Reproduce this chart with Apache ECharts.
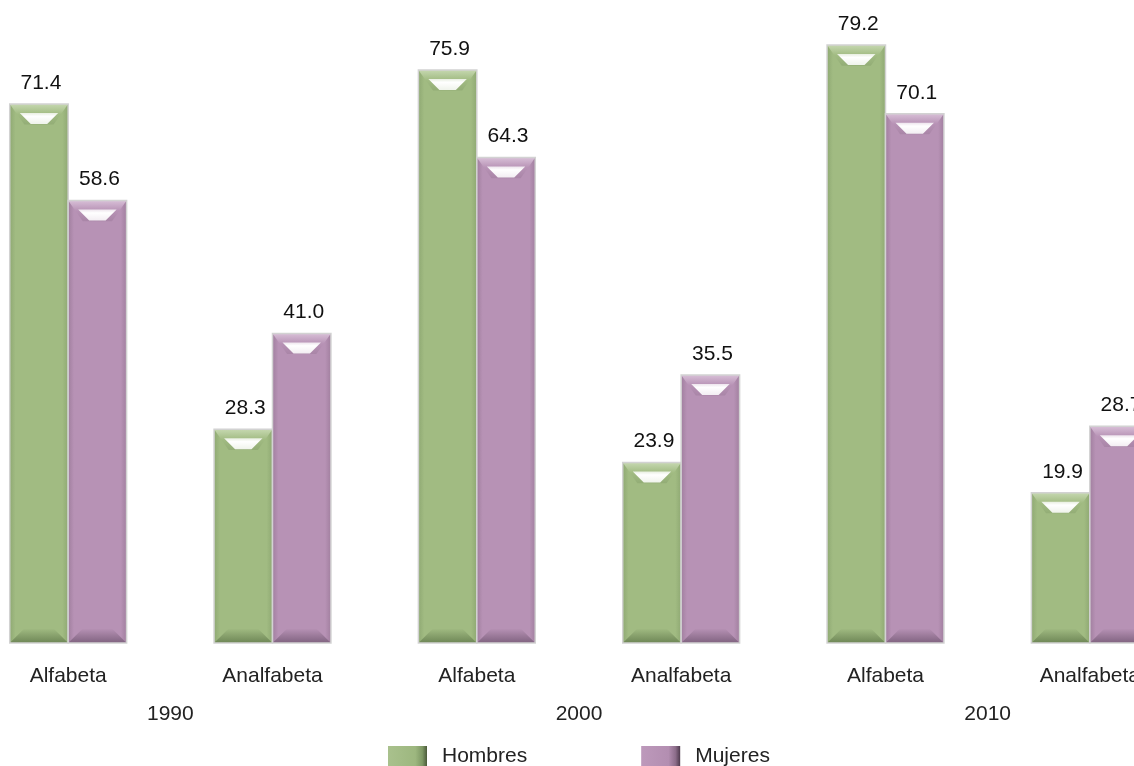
<!DOCTYPE html>
<html>
<head>
<meta charset="utf-8">
<script src="https://cdn.jsdelivr.net/npm/echarts@6/dist/echarts.min.js"></script>
<style>
html,body{margin:0;padding:0;background:#fff;overflow:hidden;width:1134px;height:766px;position:relative}
#c{position:absolute;left:-34px;top:0;width:1226px;height:766px}
</style>
</head>
<body>
<div id="c"></div>
<script>
const categories = ['Alfabeta', 'Analfabeta', 'Alfabeta', 'Analfabeta', 'Alfabeta', 'Analfabeta'];
const years = ['1990', '2000', '2010'];
const hombres = [71.4, 28.3, 75.9, 23.9, 79.2, 19.9];
const mujeres = [58.6, 41.0, 64.3, 35.5, 70.1, 28.7];

const FAMILY = '"Liberation Sans", Arial, sans-serif';
const FONT = '21px ' + FAMILY;

const palettes = {
  green: { main: '#A1BB82', light: '#C6D8B0', edge: '#8FA973', shade: '#93AD76', dark: '#6E8656' },
  purple: { main: '#B792B5', light: '#D8BFD7', edge: '#A17F9F', shade: '#A985A7', dark: '#806380' }
};

function lin(x0, y0, x1, y1, stops) {
  return new echarts.graphic.LinearGradient(x0, y0, x1, y1, stops.map(s => ({ offset: s[0], color: s[1] })));
}

function makeRender(side, pal) {
  return function (params, api) {
    const i = api.value(0), v = api.value(1);
    const p0 = api.coord([i, 0]);
    const p1 = api.coord([i, v]);
    const band = api.size([1, 0])[0];
    const w = band * 0.286;
    const x = side < 0 ? p0[0] - w : p0[0];
    const y = p1[1];
    const h = p0[1] - p1[1];
    const b = Math.min(w * 0.25, 15);
    return {
      type: 'group',
      children: [
        { type: 'rect', shape: { x: x, y: y, width: w, height: h },
          style: { fill: lin(0, 0, 1, 0, [[0, pal.edge], [0.1, pal.main], [0.9, pal.main], [1, pal.edge]]) } },
        { type: 'polygon', shape: { points: [[x, y], [x + w, y], [x + w - b, y + b + 6], [x + b, y + b + 6]] },
          style: { fill: lin(0, 0, 0, 1, [[0, pal.light], [0.5, pal.main], [1, pal.shade]]) } },
        { type: 'polygon', shape: { points: [[x + 10, y + 9], [x + w - 10, y + 9], [x + w - 21, y + 20], [x + 21, y + 20]] },
          style: { fill: lin(0, 0, 0, 1, [[0, 'rgba(255,255,255,0.75)'], [0.3, 'rgba(255,255,255,1)'], [1, 'rgba(255,255,255,0.85)']]) } },
        { type: 'polygon', shape: { points: [[x, y + h], [x + w, y + h], [x + w - b, y + h - b], [x + b, y + h - b]] },
          style: { fill: lin(0, 0, 0, 1, [[0, pal.main], [1, pal.dark]]) } },
        { type: 'rect', shape: { x: x, y: y, width: w, height: h },
          style: { fill: 'none', stroke: '#D2D2D2', lineWidth: 1.5 } },
        { type: 'text', style: { text: v.toFixed(1), x: x + w / 2 + 2, y: y - 21, align: 'center', verticalAlign: 'middle', font: FONT, fill: '#111' } }
      ]
    };
  };
}

const chart = echarts.init(document.getElementById('c'), null, { renderer: 'canvas' });
chart.setOption({
  animation: false,
  backgroundColor: '#fff',
  grid: { left: 0, right: 0, top: 39, bottom: 123 },
  legend: {
    left: 417, top: 741,
    itemWidth: 39, itemHeight: 21, itemGap: 114,
    icon: 'rect',
    textStyle: { fontSize: 21, fontFamily: FAMILY, color: '#222', padding: [0, 0, 0, 10] },
    data: ['Hombres', 'Mujeres']
  },
  xAxis: [
    { type: 'category', data: categories, position: 'bottom',
      axisLine: { show: false }, axisTick: { show: false },
      axisLabel: { margin: 23, fontSize: 21, fontFamily: FAMILY, color: '#222' } },
    { type: 'category', data: years, position: 'bottom', offset: 38,
      axisLine: { show: false }, axisTick: { show: false },
      axisLabel: { margin: 23, fontSize: 21, fontFamily: FAMILY, color: '#222' } }
  ],
  yAxis: { type: 'value', min: 0, max: 80, show: false, splitLine: { show: false } },
  series: [
    { name: 'Hombres', type: 'custom', xAxisIndex: 0,
      itemStyle: { color: lin(0, 0, 1, 0, [[0, '#A9C18D'], [0.7, '#9DB77F'], [0.88, '#7E9865'], [1, '#4B5A3A']]) },
      renderItem: makeRender(-1, palettes.green),
      encode: { x: 0, y: 1 },
      data: hombres.map((v, i) => [i, v]) },
    { name: 'Mujeres', type: 'custom', xAxisIndex: 0,
      itemStyle: { color: lin(0, 0, 1, 0, [[0, '#BD99BB'], [0.7, '#B38EB1'], [0.88, '#8C6D8A'], [1, '#4E3A4D']]) },
      renderItem: makeRender(1, palettes.purple),
      encode: { x: 0, y: 1 },
      data: mujeres.map((v, i) => [i, v]) }
  ]
});
</script>
</body>
</html>
